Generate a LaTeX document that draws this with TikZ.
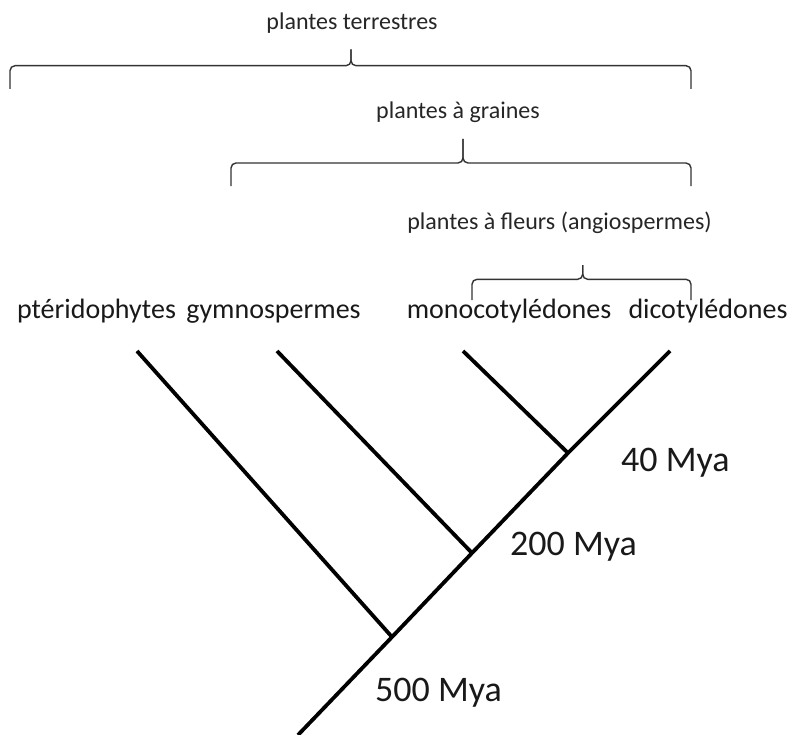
\documentclass[tikz,border=0pt]{standalone}
\usepackage{fontspec}
\setmainfont{Carlito}
\usepackage{tikz}
\usetikzlibrary{positioning}

% curly bracket over a group: x1, x2, xtip, ybar, yend, ytip
\newcommand\cladebrace[6]{%
  \draw[bracket] (#1,#5) -- (#1,#4) -- (#3,#4) -- (#3,#6);
  \draw[bracket] (#3,#6) -- (#3,#4) -- (#2,#4) -- (#2,#5);
}

\begin{document}
\begin{tikzpicture}[
  x=1bp, y=-1bp,
  branch/.style={line width=3.8bp, black},
  bracket/.style={line width=1.4bp, black!80, rounded corners=5bp},
  taxon/.style={font=\fontsize{28bp}{32bp}\selectfont, text=black!90,
    inner sep=0pt, anchor=base},
  group/.style={font=\fontsize{24bp}{28bp}\selectfont, text=black!85,
    inner sep=0pt, anchor=base},
  age/.style={font=\fontsize{36bp}{40bp}\selectfont, text=black!90,
    inner sep=0pt, anchor=base west},
]
\useasboundingbox (0,0) rectangle (792,735);
% ====== TAXA ======
\node[taxon] (pter) at (96.5,318) {ptéridophytes};
\node[taxon] (gymn) at (273.5,318) {gymnospermes};
\node[taxon] (mono) at (509,318) {monocotylédones};
\node[taxon] (dico) at (708,318) {dicotylédones};
%
% ====== TREE ======
\coordinate (pter_top) at (137,351);
\coordinate (gymn_top) at (277,351);
\coordinate (mono_top) at (463,351);
\coordinate (dico_top) at (670,351);
\coordinate (root) at (298,735);
\coordinate (j500) at (392,637);
\coordinate (j200) at (472,553);
\coordinate (j40) at (568,453);
\draw[branch] (root) -- (j500) -- (j200) -- (j40) -- (dico_top);
\draw[branch] (pter_top) -- (j500);
\draw[branch] (gymn_top) -- (j200);
\draw[branch] (mono_top) -- (j40);
\node[age] (a40) at (621,471.7) {40 Mya};
\node[age] (a200) at (510,555) {200 Mya};
\node[age] (a500) at (375,701.7) {500 Mya};
%
% ====== GROUPS ======
\node[group] (terr) at (352,29.3) {plantes terrestres};
\cladebrace{10}{691}{351}{65.7}{89}{49.5}
\node[group] (grain) at (458,118.3) {plantes à graines};
\cladebrace{231}{691}{463}{163}{186}{139}
\node[group] (angio) at (559.5,229) {plantes à fleurs (angiospermes)};
\cladebrace{472}{691}{582.7}{279.3}{300}{265}
\end{tikzpicture}
\end{document}
